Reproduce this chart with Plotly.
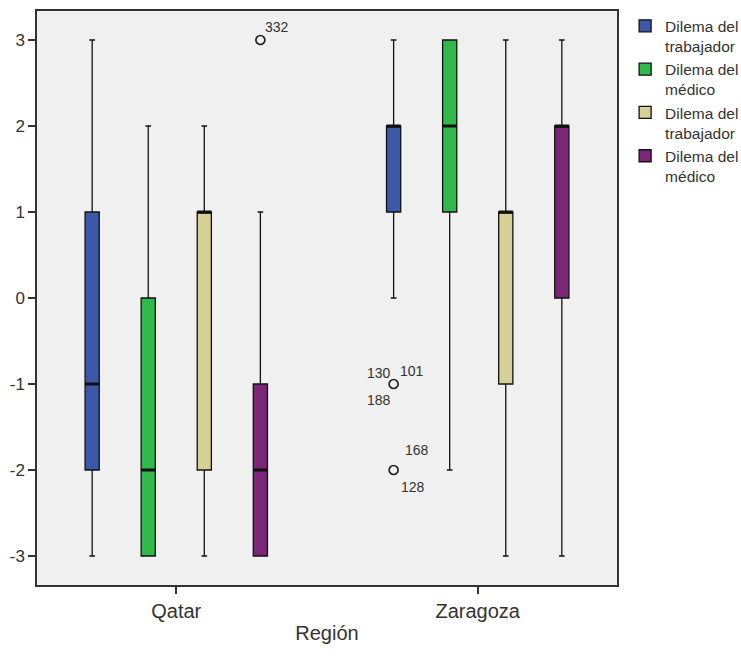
import plotly.graph_objects as go

regions = ["Qatar", "Zaragoza"]
series_names = ["Dilema del<br>trabajador", "Dilema del<br>médico",
                "Dilema del<br>trabajador", "Dilema del<br>médico"]
colors = ["#3d58a9", "#30b84a", "#d4d096", "#7b2778"]

# per series: values for [Qatar, Zaragoza]
lowerfence = [[-3, 0], [-3, -2], [-3, -3], [-3, -3]]
q1 = [[-2, 1], [-3, 1], [-2, -1], [-3, 0]]
median = [[-1, 2], [-2, 2], [1, 1], [-2, 2]]
q3 = [[1, 2], [0, 3], [1, 1], [-1, 2]]
upperfence = [[3, 3], [2, 3], [2, 3], [1, 3]]

# outliers: (series, region index, value)
outlier_points = [(3, 0, 3), (0, 1, -1), (0, 1, -2)]
# outlier labels: (series, region index, value, label, dx px, dy px)
outlier_labels = [
    (3, 0, 3, "332", 17, 13),
    (0, 1, -1, "130", -15, 11),
    (0, 1, -1, "101", 18, 13),
    (0, 1, -1, "188", -15, -16),
    (0, 1, -2, "168", 23, 20),
    (0, 1, -2, "128", 19, -17),
]

yticks = [-3, -2, -1, 0, 1, 2, 3]

N = len(series_names)
SLOT = 0.186      # distance between boxes inside a region group
BOXW = 0.047      # box width (x units, region spacing = 1)
FONT = "Liberation Sans, Arial, sans-serif"


def pos(k, r):
    return r + (k - (N - 1) / 2) * SLOT


fig = go.Figure()
for k in range(N):
    xs = [pos(k, r) for r in range(len(regions))]
    fig.add_trace(go.Box(
        x=xs, q1=q1[k], median=median[k], q3=q3[k],
        lowerfence=lowerfence[k], upperfence=upperfence[k],
        name=series_names[k], width=BOXW,
        fillcolor=colors[k], line=dict(color="#111111", width=1.3),
        whiskerwidth=0.4, boxpoints=False,
        hoverinfo="skip", showlegend=True,
    ))
for k in range(N):
    xs = [pos(k, r) for r in range(len(regions))]
    fig.add_trace(go.Box(
        x=xs, q1=median[k], median=median[k], q3=median[k],
        lowerfence=median[k], upperfence=median[k], width=BOXW,
        fillcolor="rgba(0,0,0,0)", line=dict(color="#111111", width=3),
        whiskerwidth=0, boxpoints=False, hoverinfo="skip", showlegend=False,
    ))

fig.add_trace(go.Scatter(
    x=[pos(k, r) for (k, r, v) in outlier_points],
    y=[v for (k, r, v) in outlier_points],
    mode="markers", showlegend=False, hoverinfo="skip",
    marker=dict(symbol="circle-open", size=9, color="#222222",
                line=dict(width=1.7, color="#222222")),
))

for (k, r, v, lab, dx, dy) in outlier_labels:
    fig.add_annotation(
        x=pos(k, r), y=v, xref="x", yref="y",
        text=lab, showarrow=False, xshift=dx, yshift=dy,
        font=dict(family=FONT, size=14, color="#333333"),
    )

fig.update_layout(
    width=741, height=662,
    margin=dict(l=37, r=124, t=11, b=77, autoexpand=False),
    paper_bgcolor="white", plot_bgcolor="#f0f0f0",
    boxmode="overlay",
    font=dict(family=FONT, size=17, color="#333333"),
    legend=dict(x=1.014, y=1.003, xanchor="left", yanchor="top",
                valign="top",
                font=dict(family=FONT, size=15.5, color="#333333"),
                bgcolor="rgba(0,0,0,0)", tracegroupgap=0),
    showlegend=True,
)
fig.update_xaxes(
    range=[-0.462, 1.462], tickvals=list(range(len(regions))), ticktext=regions,
    showline=True, linecolor="#333333", linewidth=1.5, mirror=True,
    ticks="outside", ticklen=7, tickwidth=1.5, tickcolor="#333333",
    showgrid=False, zeroline=False, tickfont=dict(size=20),
    title=dict(text="Región", font=dict(size=20), standoff=5),
)
fig.update_yaxes(
    range=[-3.337, 3.337], tickvals=yticks, ticktext=[str(t) for t in yticks],
    showline=True, linecolor="#333333", linewidth=1.5, mirror=True,
    ticks="outside", ticklen=7, tickwidth=1.5, tickcolor="#333333",
    showgrid=False, zeroline=False, tickfont=dict(size=17),
)

fig.write_html("out.html")
